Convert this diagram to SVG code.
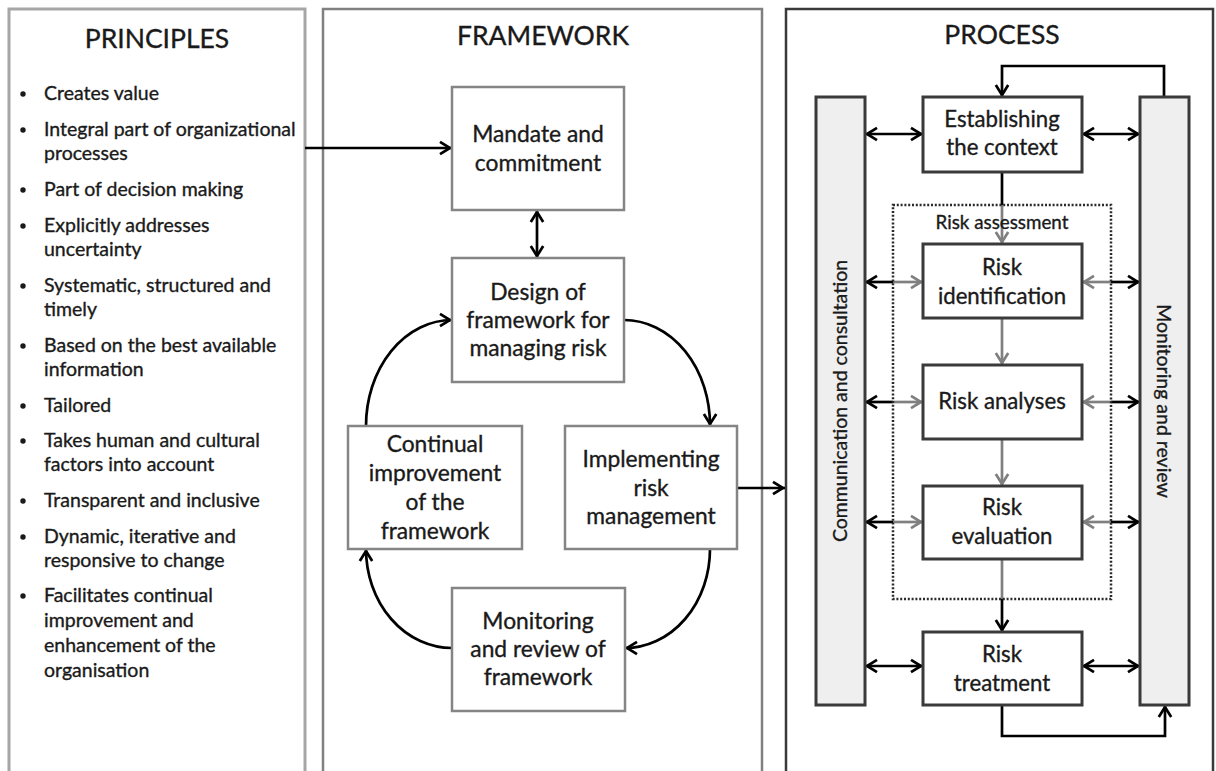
<svg xmlns="http://www.w3.org/2000/svg" width="1216" height="771" viewBox="0 0 1216 771">
<style>
  text { font-family: Lato, "Liberation Sans", sans-serif; fill: #1a1a1a; stroke: #1a1a1a; stroke-width: 0.35px; }
  .title { font-size: 26.5px; text-anchor: middle; }
  .bul { font-size: 19.5px; }
  .fw { font-size: 22.8px; text-anchor: middle; }
  .pr { font-size: 22.2px; text-anchor: middle; }
  .lab { font-size: 18.8px; text-anchor: middle; }
  .rot { font-size: 19.5px; text-anchor: middle; }
  .dot { fill: #1a1a1a; }
  .panelP { fill: #fff; stroke: #a6a6a6; stroke-width: 3; }
  .panelF { fill: #fff; stroke: #808080; stroke-width: 2.5; }
  .panelR { fill: #fff; stroke: #3a3a3a; stroke-width: 2.5; }
  .fbox { fill: #fff; stroke: #858585; stroke-width: 2.5; }
  .pbox { fill: #fff; stroke: #3a3a3a; stroke-width: 3; }
  .bar { fill: #efefef; stroke: #3a3a3a; stroke-width: 3; }
  .dotted { fill: none; stroke: #2a2a2a; stroke-width: 2.5; stroke-dasharray: 2 1.8; }
  .ak { fill: none; stroke: #000; stroke-width: 2.7; }
  .ag { fill: none; stroke: #808080; stroke-width: 2.7; }
  .ae { marker-end: url(#mk); }
  .ab { marker-start: url(#mk); marker-end: url(#mk); }
  .ge { marker-end: url(#mg); }
</style>
<defs>
  <marker id="mk" markerUnits="userSpaceOnUse" viewBox="0 0 16 16" markerWidth="16" markerHeight="16" refX="14.5" refY="8" orient="auto-start-reverse">
    <path d="M2.5,1.8 L12.5,8 L2.5,14.2" fill="none" stroke="#000" stroke-width="2.7"/>
  </marker>
  <marker id="mg" markerUnits="userSpaceOnUse" viewBox="0 0 16 16" markerWidth="16" markerHeight="16" refX="14.5" refY="8" orient="auto-start-reverse">
    <path d="M2.5,1.8 L12.5,8 L2.5,14.2" fill="none" stroke="#808080" stroke-width="2.7"/>
  </marker>
</defs>

<g id="panel-principles">
  <rect class="panelP" x="9" y="9" width="296" height="800"/>
  <text class="title" x="157" y="48">PRINCIPLES</text>
  <g class="dot">
    <circle cx="23" cy="94" r="2.7"/>
    <circle cx="23" cy="130" r="2.7"/>
    <circle cx="23" cy="190" r="2.7"/>
    <circle cx="23" cy="226" r="2.7"/>
    <circle cx="23" cy="286" r="2.7"/>
    <circle cx="23" cy="346" r="2.7"/>
    <circle cx="23" cy="406" r="2.7"/>
    <circle cx="23" cy="441" r="2.7"/>
    <circle cx="23" cy="501" r="2.7"/>
    <circle cx="23" cy="537" r="2.7"/>
    <circle cx="23" cy="596" r="2.7"/>
  </g>
  <text class="bul" x="44" y="100">Creates value</text>
  <text class="bul" x="44" y="136">Integral part of organizational</text>
  <text class="bul" x="44" y="160">processes</text>
  <text class="bul" x="44" y="196">Part of decision making</text>
  <text class="bul" x="44" y="232">Explicitly addresses</text>
  <text class="bul" x="44" y="256">uncertainty</text>
  <text class="bul" x="44" y="292">Systematic, structured and</text>
  <text class="bul" x="44" y="316">timely</text>
  <text class="bul" x="44" y="352">Based on the best available</text>
  <text class="bul" x="44" y="376">information</text>
  <text class="bul" x="44" y="412">Tailored</text>
  <text class="bul" x="44" y="447">Takes human and cultural</text>
  <text class="bul" x="44" y="471">factors into account</text>
  <text class="bul" x="44" y="507">Transparent and inclusive</text>
  <text class="bul" x="44" y="543">Dynamic, iterative and</text>
  <text class="bul" x="44" y="567">responsive to change</text>
  <text class="bul" x="44" y="602">Facilitates continual</text>
  <text class="bul" x="44" y="627">improvement and</text>
  <text class="bul" x="44" y="652">enhancement of the</text>
  <text class="bul" x="44" y="677">organisation</text>
</g>

<g id="panel-framework">
  <rect class="panelF" x="323" y="9" width="439" height="800"/>
  <text class="title" x="543" y="45">FRAMEWORK</text>
</g>

<g id="panel-process">
  <rect class="panelR" x="786" y="9" width="427" height="800"/>
  <text class="title" x="1002" y="44">PROCESS</text>
</g>

<g id="connectors">
  <path class="ak ae" d="M305,148 H452"/>
  <path class="ak ab" d="M537,210 V258"/>
  <path class="ak ae" d="M624,320 A86,105 0 0 1 710,426"/>
  <path class="ak ae" d="M710,549 A85,99 0 0 1 625,648"/>
  <path class="ak ae" d="M452,648 A86,99 0 0 1 366,549"/>
  <path class="ak ae" d="M366,426 A86,106 0 0 1 452,320"/>
  <path class="ak ae" d="M737,488 H785"/>
  <path class="ak ae" d="M1164,97 V66 H1002 V97"/>
  <path class="ak ae" d="M1002,705 V736 H1165 V705"/>
  <path class="ak" d="M1002,172 V205"/>
  <path class="ag ge" d="M1002,205 V244"/>
  <path class="ag ge" d="M1002,318 V365"/>
  <path class="ag ge" d="M1002,439 V486"/>
  <path class="ag" d="M1002,559 V599"/>
  <path class="ak ae" d="M1002,599 V632"/>
  <path class="ak ab" d="M865,134 H923"/>
  <path class="ak ab" d="M1082,134 H1140"/>
  <path class="ak ab" d="M865,666 H923"/>
  <path class="ak ab" d="M1082,666 H1140"/>
  <path class="ak ae" d="M893,282 H865"/>
  <path class="ag ge" d="M893,282 H923"/>
  <path class="ag ge" d="M1111,282 H1082"/>
  <path class="ak ae" d="M1111,282 H1140"/>
  <path class="ak ae" d="M893,402 H865"/>
  <path class="ag ge" d="M893,402 H923"/>
  <path class="ag ge" d="M1111,402 H1082"/>
  <path class="ak ae" d="M1111,402 H1140"/>
  <path class="ak ae" d="M893,522 H865"/>
  <path class="ag ge" d="M893,522 H923"/>
  <path class="ag ge" d="M1111,522 H1082"/>
  <path class="ak ae" d="M1111,522 H1140"/>
</g>

<g id="risk-assessment">
  <rect class="dotted" x="893" y="205" width="218" height="394"/>
  <text class="lab" x="1002" y="229">Risk assessment</text>
</g>

<g id="mandate">
  <rect class="fbox" x="452" y="87" width="172" height="123"/>
  <text class="fw" x="538" y="142">Mandate and</text>
  <text class="fw" x="538" y="171">commitment</text>
</g>
<g id="design">
  <rect class="fbox" x="452" y="258" width="172" height="124"/>
  <text class="fw" x="538" y="300">Design of</text>
  <text class="fw" x="538" y="328">framework for</text>
  <text class="fw" x="538" y="356">managing risk</text>
</g>
<g id="continual">
  <rect class="fbox" x="348" y="426" width="174" height="123"/>
  <text class="fw" x="435" y="452">Continual</text>
  <text class="fw" x="435" y="481">improvement</text>
  <text class="fw" x="435" y="510">of the</text>
  <text class="fw" x="435" y="539">framework</text>
</g>
<g id="implementing">
  <rect class="fbox" x="565" y="426" width="172" height="123"/>
  <text class="fw" x="651" y="467">Implementing</text>
  <text class="fw" x="651" y="496">risk</text>
  <text class="fw" x="651" y="524">management</text>
</g>
<g id="monitoring-fw">
  <rect class="fbox" x="452" y="588" width="173" height="123"/>
  <text class="fw" x="538" y="629">Monitoring</text>
  <text class="fw" x="538" y="657">and review of</text>
  <text class="fw" x="538" y="685">framework</text>
</g>

<g id="communication">
  <rect class="bar" x="816" y="97" width="49" height="608"/>
  <text class="rot" transform="translate(847,401) rotate(-90)">Communication and consultation</text>
</g>
<g id="monitoring-review">
  <rect class="bar" x="1140" y="97" width="49" height="608"/>
  <text class="rot" transform="translate(1157,401) rotate(90)">Monitoring and review</text>
</g>
<g id="establishing">
  <rect class="pbox" x="923" y="97" width="159" height="75"/>
  <text class="pr" x="1002" y="127">Establishing</text>
  <text class="pr" x="1002" y="155">the context</text>
</g>
<g id="identification">
  <rect class="pbox" x="923" y="244" width="159" height="74"/>
  <text class="pr" x="1002" y="275">Risk</text>
  <text class="pr" x="1002" y="304">identification</text>
</g>
<g id="analyses">
  <rect class="pbox" x="923" y="365" width="159" height="74"/>
  <text class="pr" x="1002" y="409">Risk analyses</text>
</g>
<g id="evaluation">
  <rect class="pbox" x="923" y="486" width="159" height="73"/>
  <text class="pr" x="1002" y="515">Risk</text>
  <text class="pr" x="1002" y="544">evaluation</text>
</g>
<g id="treatment">
  <rect class="pbox" x="923" y="632" width="159" height="73"/>
  <text class="pr" x="1002" y="662">Risk</text>
  <text class="pr" x="1002" y="691">treatment</text>
</g>
</svg>
